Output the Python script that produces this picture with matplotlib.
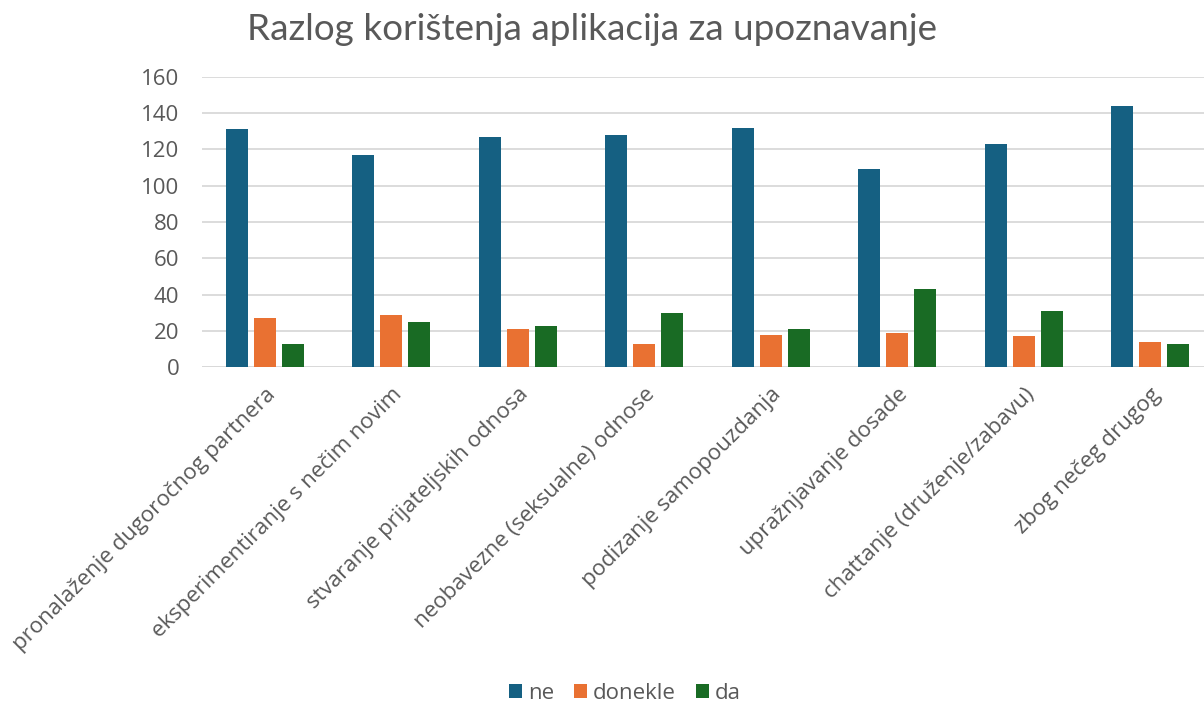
import matplotlib.pyplot as plt
import numpy as np

categories = [
    "pronalaženje dugoročnog partnera",
    "eksperimentiranje s nečim novim",
    "stvaranje prijateljskih odnosa",
    "neobavezne (seksualne) odnose",
    "podizanje samopouzdanja",
    "upražnjavanje dosade",
    "chattanje (druženje/zabavu)",
    "zbog nečeg drugog",
]
ne = [131, 117, 127, 128, 132, 109, 123, 144]
donekle = [27, 29, 21, 13, 18, 19, 17, 14]
da = [13, 25, 23, 30, 21, 43, 31, 13]

series = [("ne", ne, "#156082"), ("donekle", donekle, "#E97132"), ("da", da, "#196B24")]

plt.rcParams["font.family"] = ["Open Sans", "DejaVu Sans"]
TXT = "#595959"
FS = 16

fig = plt.figure(figsize=(12.04, 7.06), dpi=100)
ax = fig.add_axes([0.1674, 0.4797, 0.8405, 0.4117])

x = np.arange(len(categories))
step, width = 0.22, 0.174
for i, (name, vals, col) in enumerate(series):
    ax.bar(x + (i - 1) * step, vals, width, color=col, label=name, zorder=3)

ax.set_xlim(-0.5, len(categories) - 0.5)
ax.set_ylim(0, 160)
ax.set_yticks(range(0, 161, 20))
ax.yaxis.grid(True, color="#d9d9d9", linewidth=1.3, zorder=0)
for s in ax.spines.values():
    s.set_visible(False)
ax.axhline(0, color="#d9d9d9", linewidth=1.3, zorder=2)
ax.tick_params(axis="both", length=0, colors=TXT, labelsize=FS)
ax.tick_params(axis="y", pad=16)
ax.set_xticks(x)
ax.set_xticklabels(categories, rotation=45, ha="right", rotation_mode="anchor",
                   fontsize=FS, color=TXT)
ax.tick_params(axis="x", pad=12)

fig.text(0.4917, 0.958, "Razlog korištenja aplikacija za upoznavanje", ha="center",
         va="center", fontsize=26.6, color=TXT, family=["Lato", "DejaVu Sans"])

fig.legend(loc="center", bbox_to_anchor=(0.519, 0.018), ncol=3, frameon=False,
           fontsize=FS, labelcolor=TXT, handlelength=0.6, handleheight=0.6,
           handletextpad=0.25, columnspacing=0.9)

fig.savefig("out.png", dpi=100)
